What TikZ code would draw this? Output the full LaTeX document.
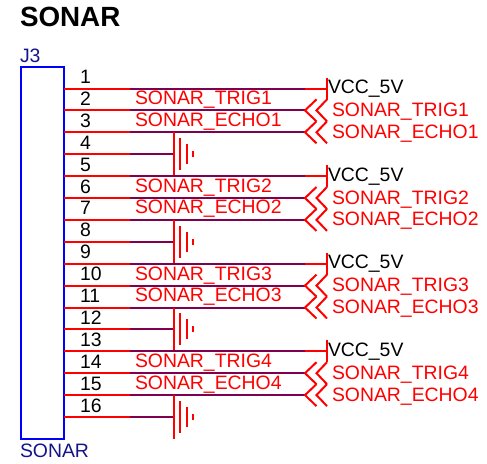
\documentclass[tikz,border=0pt]{standalone}
\usepackage{fontspec}
\setmainfont{Liberation Sans}
\definecolor{wirered}{RGB}{255,0,0}
\definecolor{wirepurple}{RGB}{128,0,80}
\definecolor{navyt}{RGB}{20,20,140}
\newcommand{\lblsize}{\fontsize{19.4}{21}\selectfont}
\begin{document}
\begin{tikzpicture}[x=1pt,y=-1pt,
  txt/.style={inner sep=0pt,outer sep=0pt,anchor=base west,font=\lblsize},
  redtxt/.style={txt,text=wirered},
  pinnum/.style={txt,text=black},
  compname/.style={txt,text=navyt},
  pinline/.style={draw=wirered,line width=2pt},
  netline/.style={draw=wirepurple,line width=2pt},
  sym/.style={draw=wirered,line width=2pt,line cap=butt,line join=miter},
  bodybox/.style={draw=blue,line width=2pt,inner sep=0pt,outer sep=0pt,anchor=north west,minimum width=43.5pt,minimum height=372pt}]
\useasboundingbox (0,0) rectangle (487,463);
\node[txt,anchor=base west,font=\fontsize{27.8}{30}\selectfont\bfseries] (title) at (20,27) {SONAR};
\node[compname] (refdes) at (20,62) {J3};
\node[compname] (value) at (20,457) {SONAR};
\node[bodybox] (body) at (20.5,67) {};
% pins
\foreach \n in {1,...,16}{
  \pgfmathsetmacro{\yy}{88.5+(\n-1)*21.9}
  \coordinate (p\n) at (64,\yy);
  \coordinate (m\n) at (130,\yy);
  \coordinate (e\n) at (305,\yy);
  \node[pinnum] (num\n) at (80,\yy-5) {\n};
  \draw[pinline] (p\n) -- (m\n);
}
\coordinate (m17) at (130,439);
% groups
\foreach \g/\a in {1/1,2/5,3/9,4/13}{
  \pgfmathtruncatemacro{\b}{\a+1}
  \pgfmathtruncatemacro{\c}{\a+2}
  \pgfmathtruncatemacro{\d}{\a+3}
  \pgfmathtruncatemacro{\ee}{\a+4}
  % VCC
  \draw[netline] (m\a) -- (e\a);
  \draw[sym] (e\a) -- ++(22,0) coordinate (v\g);
  \draw[sym] ([yshift=11pt]v\g) -- ([yshift=-11pt]v\g);
  \node[txt,text=black] (vcc\g) at ([xshift=1pt,yshift=-5pt]v\g) {VCC\_5V};
  % signals
  \draw[netline] (m\b) -- (e\b);
  \draw[netline] (m\c) -- (e\c);
  \node[redtxt] (wt\g) at ([xshift=5pt,yshift=5.5pt]m\b) {SONAR\_TRIG\g};
  \node[redtxt] (we\g) at ([xshift=5pt,yshift=6pt]m\c) {SONAR\_ECHO\g};
  \foreach \q in {\b,\c}{
    \draw[sym] ([xshift=11.5pt,yshift=-11pt]e\q) -- (e\q) -- ([xshift=11.5pt,yshift=11pt]e\q);
    \draw[sym] ([xshift=22pt,yshift=-11pt]e\q) -- ([xshift=11.5pt]e\q) -- ([xshift=22pt,yshift=11pt]e\q);
  }
  \node[redtxt] (ot\g) at ([xshift=27pt,yshift=-6pt]e\b) {SONAR\_TRIG\g};
  \node[redtxt] (oe\g) at ([xshift=27pt,yshift=-6pt]e\c) {SONAR\_ECHO\g};
  % ground
  \draw[netline] (m\d) -- ([xshift=43.5pt]m\d) coordinate (gj\g);
  \draw[sym] ([xshift=43.5pt]m\c) -- ([xshift=43.5pt]m\ee);
  \draw[sym] ([xshift=6.5pt,yshift=16pt]gj\g) -- ([xshift=6.5pt,yshift=-16pt]gj\g);
  \draw[sym] ([xshift=13pt,yshift=10pt]gj\g) -- ([xshift=13pt,yshift=-10pt]gj\g);
  \draw[sym] ([xshift=19.5pt,yshift=3pt]gj\g) -- ([xshift=19.5pt,yshift=-3pt]gj\g);
}
\end{tikzpicture}
\end{document}
